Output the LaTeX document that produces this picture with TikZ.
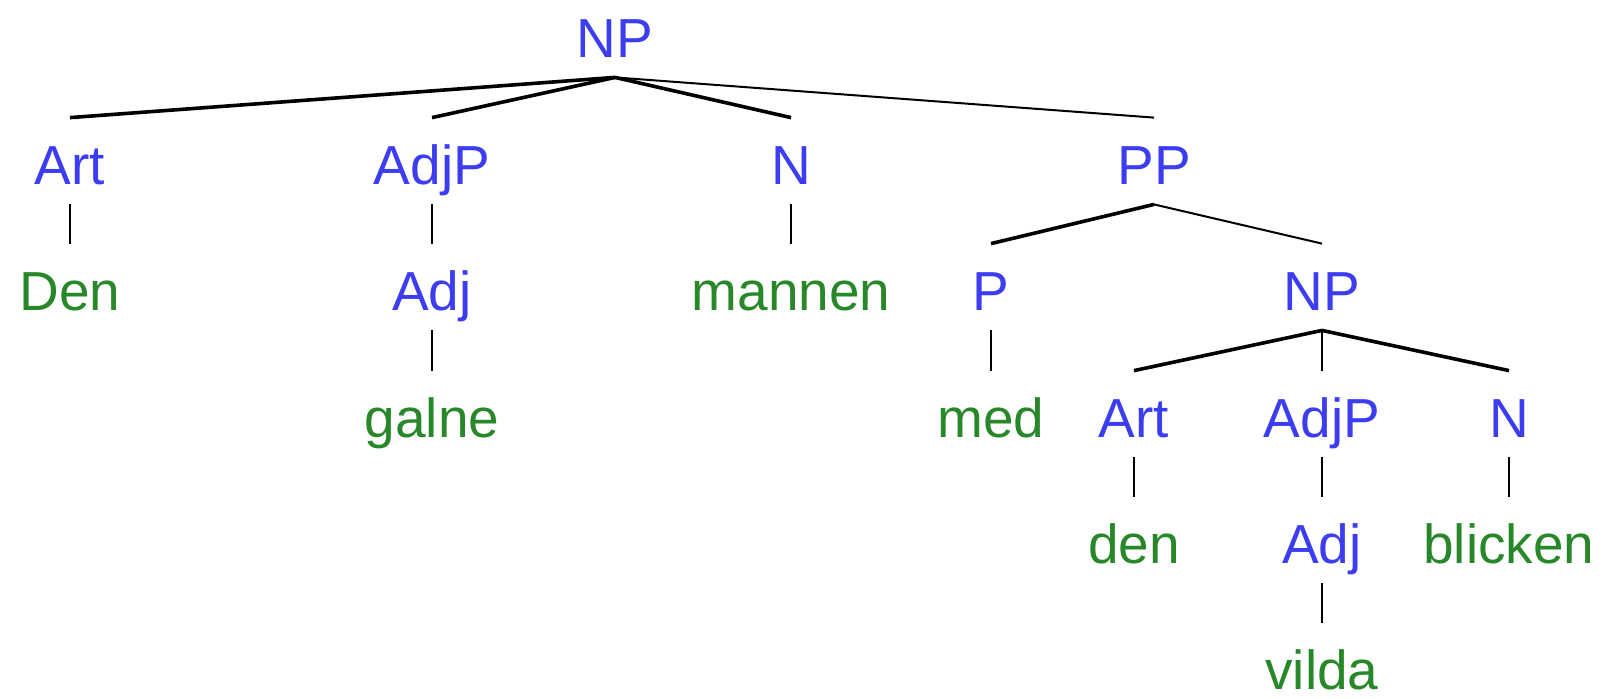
\documentclass[tikz,border=0pt]{standalone}
\usepackage{fontspec}
\setmainfont{Liberation Sans}
\usepackage{xcolor}
\usepackage{tikz}
\usetikzlibrary{positioning,calc}

\definecolor{catblue}{RGB}{60,60,240}
\definecolor{wordgreen}{RGB}{40,135,40}

\begin{document}
\begin{tikzpicture}[x=0.5pt, y=-0.5pt,
    lbl/.style={inner sep=0pt, anchor=base, text height=33pt, text depth=10pt,
                font=\fontsize{27.5}{32}\selectfont},
    cat/.style={lbl, text=catblue},
    word/.style={lbl, text=wordgreen},
    branch/.style={line width=1.8pt},
    thinbranch/.style={line width=1pt},
    stem/.style={line width=1pt}]
    \useasboundingbox (0,0) rectangle (1605,698);

    % top NP
    \node[cat] (np) at (615,57) {NP};

    % level 1
    \node[cat] (art) at (70,184) {Art};
    \node[cat] (adjp) at (432,184) {AdjP};
    \node[cat] (n) at (791,184) {N};
    \node[cat] (pp) at (1154,184) {PP};

    % level 2
    \node[word] (den) at (70,310) {Den};
    \node[cat] (adj) at (432,310) {Adj};
    \node[word] (mannen) at (791,310) {mannen};
    \node[cat] (p) at (991,310) {P};
    \node[cat] (npb) at (1322,310) {NP};

    % level 3
    \node[word] (galne) at (432,437) {galne};
    \node[word] (med) at (991,437) {med};
    \node[cat] (artb) at (1134,437) {Art};
    \node[cat] (adjpb) at (1322,437) {AdjP};
    \node[cat] (nb) at (1509,437) {N};

    % level 4 and 5
    \node[word] (denb) at (1134,563) {den};
    \node[cat] (adjb) at (1322,563) {Adj};
    \node[word] (blicken) at (1509,563) {blicken};
    \node[word] (vilda) at (1322,689) {vilda};

    % branches
    \draw[branch] (np.south) -- (art.north);
    \draw[branch] (np.south) -- (adjp.north);
    \draw[branch] (np.south) -- (n.north);
    \draw[thinbranch] (np.south) -- (pp.north);
    \draw[branch] (pp.south) -- (p.north);
    \draw[thinbranch] (pp.south) -- (npb.north);
    \draw[branch] (npb.south) -- (artb.north);
    \draw[stem] (npb.south) -- (adjpb.north);
    \draw[branch] (npb.south) -- (nb.north);

    % single daughters
    \draw[stem] (art) -- (den);
    \draw[stem] (adjp) -- (adj);
    \draw[stem] (adj) -- (galne);
    \draw[stem] (n) -- (mannen);
    \draw[stem] (p) -- (med);
    \draw[stem] (artb) -- (denb);
    \draw[stem] (adjpb) -- (adjb);
    \draw[stem] (adjb) -- (vilda);
    \draw[stem] (nb) -- (blicken);
\end{tikzpicture}
\end{document}
